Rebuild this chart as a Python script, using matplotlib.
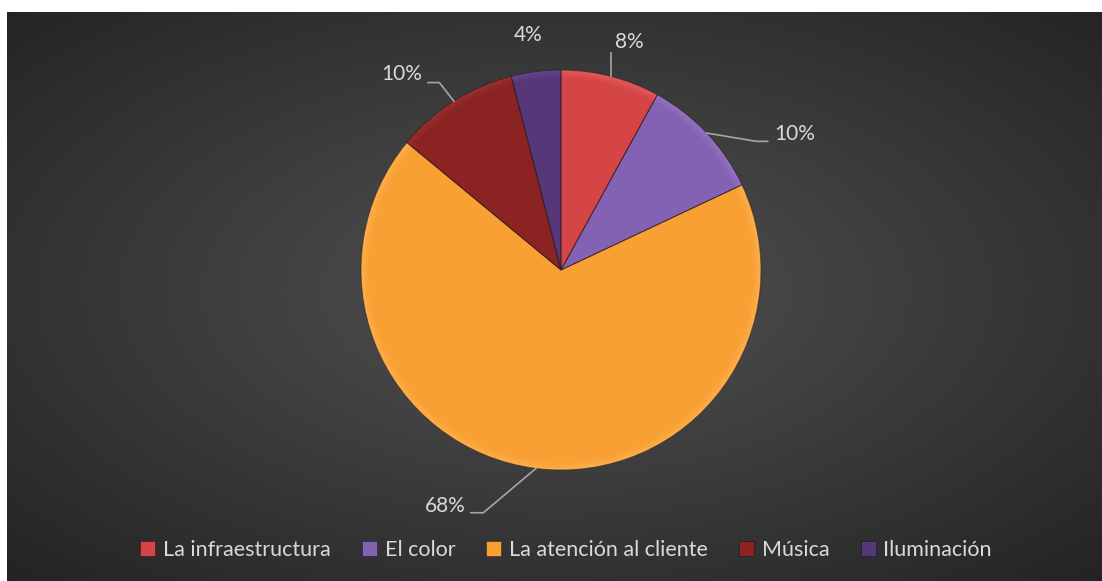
import numpy as np
import matplotlib
matplotlib.use("Agg")
from matplotlib import pyplot as plt
from matplotlib.patches import Patch, Wedge

# chart data
categories = ["La infraestructura", "El color", "La atención al cliente", "Música", "Iluminación"]
shares = [8, 10, 68, 10, 4]
colors = ["#D64545", "#8462B3", "#F9A034", "#8B2323", "#56377A"]
rim_colors = ["#E86A6A", "#9E80CA", "#FDBA5E", "#A33A3A", "#6E4E94"]

plt.rcParams['font.family'] = ['Lato', 'DejaVu Sans']
TEXT = "#D9D9D9"
LINE = "#A6A6A6"

W, H = 1102, 581
fig = plt.figure(figsize=(W / 100, H / 100), dpi=100)
fig.patch.set_facecolor("white")

# dark radial gradient background (chart area leaves a thin white margin top/left)
left, top = 7, 12
bg = fig.add_axes([left / W, 0, (W - left) / W, (H - top) / H])
bg.set_axis_off()
yy, xx = np.mgrid[0:H - top, 0:W - left]
cx, cy = 555 - left, 290 - top
d = np.sqrt(((xx - cx) / ((W - left) / 2)) ** 2 + ((yy - cy) / ((H - top) / 2)) ** 2) / np.sqrt(2)
val = (82 - 46 * np.clip(d, 0, 1)) / 255
bg.imshow(np.dstack([val, val, val]), aspect='auto', extent=[0, 1, 0, 1], origin='upper')
bg.set_xlim(0, 1)
bg.set_ylim(0, 1)

# pie axes: centre at (561, 270) px, radius 194 px
R = 194
half = 250
pcx, pcy = 561, H - 270
ax = fig.add_axes([(pcx - half) / W, (pcy - half) / H, 2 * half / W, 2 * half / H])
ax.set_axis_off()
L = half / R
ax.set_xlim(-L, L)
ax.set_ylim(-L, L)

wedges, _ = ax.pie(shares, colors=colors, startangle=90, counterclock=False, radius=1,
                   wedgeprops=dict(edgecolor="none"))

# soft bevel: lighter rim fading inwards, dark seams between slices
for w, rc in zip(wedges, rim_colors):
    for k, a in enumerate([0.55, 0.35, 0.18]):
        ax.add_patch(Wedge((0, 0), 1 - k * 0.012, w.theta1, w.theta2, width=0.012,
                           facecolor=rc, edgecolor="none", alpha=a))
    ax.add_patch(Wedge((0, 0), 1, w.theta1, w.theta2, facecolor="none",
                       edgecolor="#2a1a1a", linewidth=0.7, alpha=0.6))

# data labels with leader lines (offsets in px from the slice's edge point)
label_cfg = [
    # (line pts, text offset, ha)
    ([(0, 0), (0, 23)], (4, 24), 'left'),
    ([(0, 0), (48, -8), (59, -8)], (65, -1), 'left'),
    ([(0, 0), (-51, -43), (-63, -43)], (-68, -36), 'right'),
    ([(0, 0), (-14, 18), (-25, 18)], (-31, 26), 'right'),
    ([], (-8, 26), 'center'),
]
for w, val_, (pts, toff, ha) in zip(wedges, shares, label_cfg):
    mid = np.deg2rad((w.theta1 + w.theta2) / 2)
    ex, ey = np.cos(mid), np.sin(mid)
    if pts:
        xs = [ex + p[0] / R for p in pts]
        ys = [ey + p[1] / R for p in pts]
        ax.plot(xs, ys, color=LINE, lw=1.2, clip_on=False)
    va = 'bottom' if ha == 'left' and toff[1] > 20 else 'center'
    if ha == 'center':
        va = 'bottom'
    ax.text(ex + toff[0] / R, ey + toff[1] / R, f"{val_}%", color=TEXT, fontsize=15,
            ha=ha, va=va, clip_on=False)

handles = [Patch(facecolor=c, edgecolor="#00000066", linewidth=0.6) for c in colors]
fig.legend(handles, categories, loc='center', bbox_to_anchor=(566 / W, 1 - 550 / H),
           ncol=5, frameon=False, fontsize=15.5, labelcolor=TEXT,
           handlelength=0.7, handleheight=0.7, handletextpad=0.35, columnspacing=1.45)

fig.savefig("out.png", dpi=100, facecolor=fig.get_facecolor())
